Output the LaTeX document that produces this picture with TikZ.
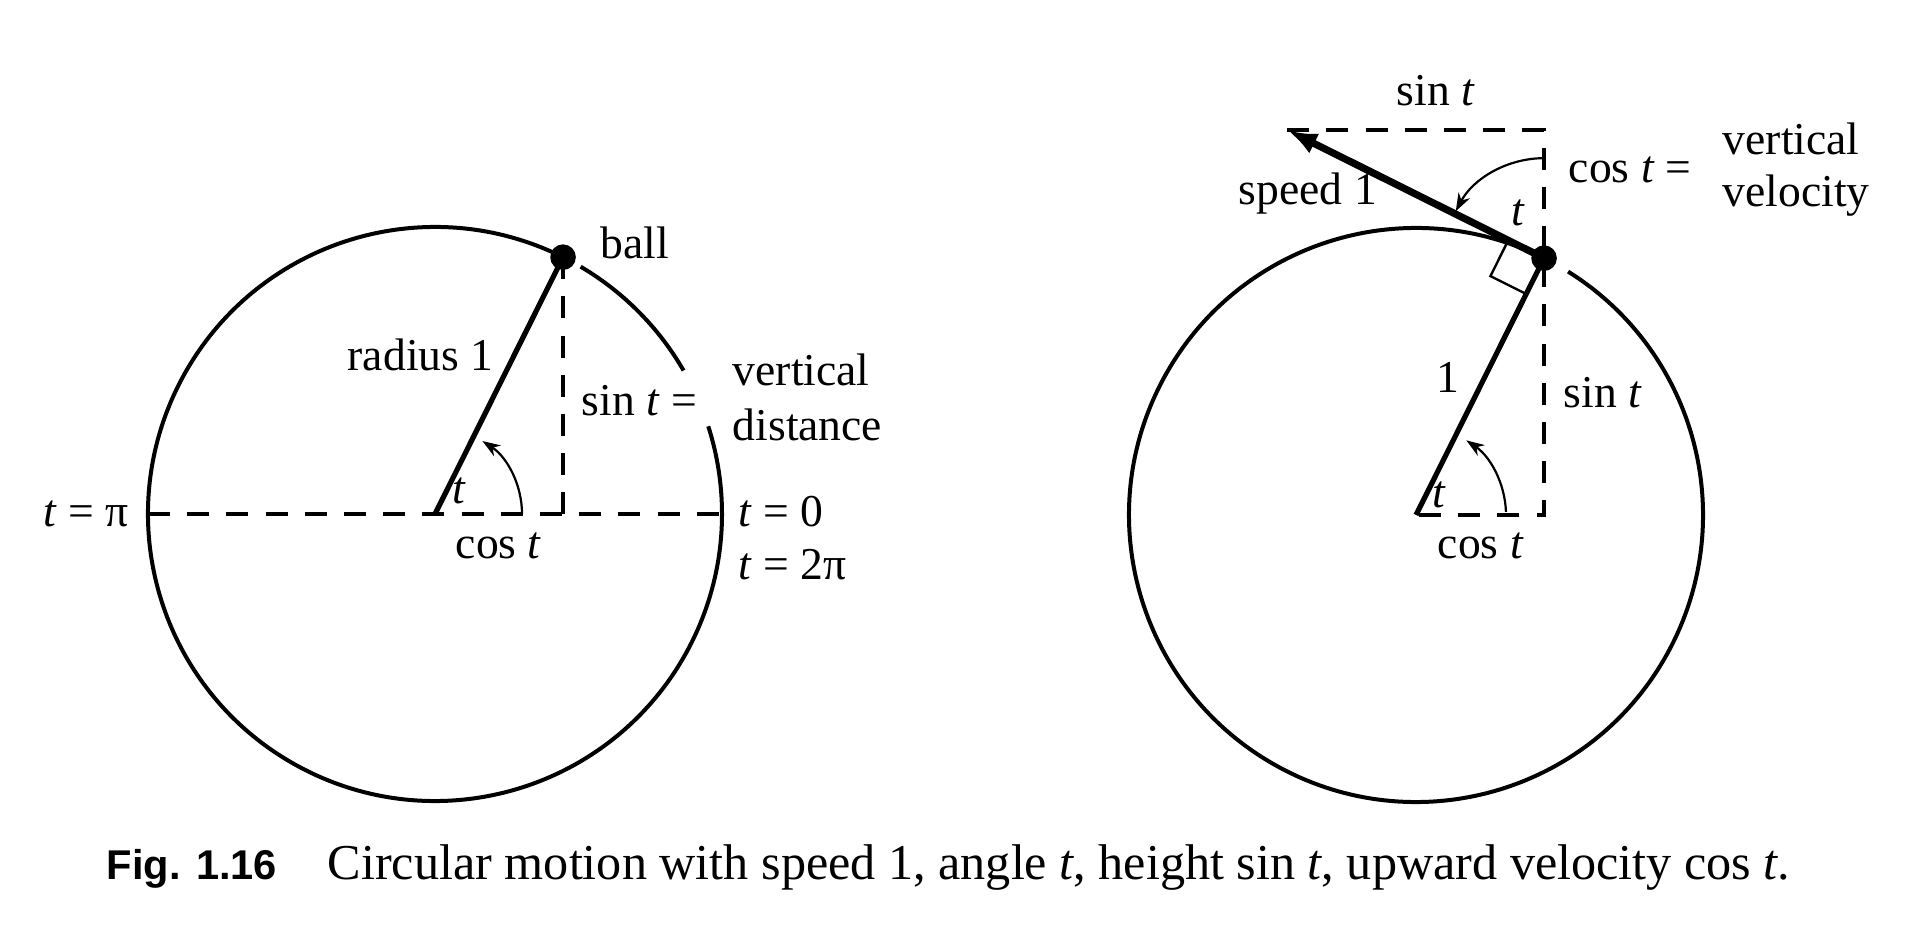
\documentclass[tikz,border=0pt]{standalone}
\usepackage{fontspec}
\setmainfont{Liberation Serif}
\newfontfamily\figfont{Liberation Sans}
\usetikzlibrary{arrows.meta,calc}
\begin{document}
\begin{tikzpicture}[x=0.25pt,y=0.25pt,
  curveline/.style={line width=1pt},
  radline/.style={line width=1.3pt},
  dshline/.style={line width=1pt,dash pattern=on 5.5pt off 4.3pt},
  angarc/.style={line width=0.55pt,-{Stealth[length=4.5pt,width=3.2pt]}},
  veloarrow/.style={line width=1.8pt,-{Latex[length=7.5pt,width=5.5pt]}},
  rmark/.style={line width=0.6pt},
  balldot/.style={circle,fill=black,inner sep=0pt,minimum size=6.4pt},
  lbl/.style={inner sep=0pt,font=\fontsize{11.4}{13}\selectfont},
  captxt/.style={inner sep=0pt,font=\fontsize{12.55}{14}\selectfont},
  figlbl/.style={inner sep=0pt,font=\figfont\bfseries\fontsize{10.4}{12}\selectfont}
]
\useasboundingbox[fill=white] (0,0) rectangle (1914,942);

% ---------------- left figure ----------------
\coordinate (O1) at (435,428);
\coordinate (B1) at ($(O1)+(63.5:71.75pt)$);
\coordinate (F1) at (B1 |- O1);
\coordinate (L1) at ($(O1)+(180:71.75pt)$);
\coordinate (R1) at ($(O1)+(0:71.75pt)$);
% circle with gaps
\draw[curveline] (R1) arc[start angle=0,end angle=17.8,radius=71.75pt];
\draw[curveline] ($(O1)+(30:71.75pt)$) arc[start angle=30,end angle=59.5,radius=71.75pt];
\draw[curveline] (B1) arc[start angle=63.5,end angle=360,radius=71.75pt];
% dashed lines
\draw[dshline] (L1) -- (R1);
\draw[dshline] (B1) -- (F1);
% radius
\node[balldot] (ball1) at (B1) {};
\draw[radline] (O1) -- (ball1.center);
% angle arc
\draw[angarc] ($(O1)+(0:21.75pt)$) arc[start angle=0,end angle=57,radius=21.75pt];
% labels
\node[lbl,anchor=base west] (lball) at (600,683) {ball};
\node[lbl,anchor=base west] (lrad) at (347,571) {radius 1};
\node[lbl,anchor=base west] (lsin1) at (581,526) {sin \textit{t} =};
\node[lbl,anchor=base west] (lvert1) at (732,556) {vertical};
\node[lbl,anchor=base west] (ldist1) at (732,501) {distance};
\node[lbl,anchor=base east] (lpi) at (129,415) {\textit{t} = π};
\node[lbl,anchor=base west] (lzero) at (738,415) {\textit{t} = 0};
\node[lbl,anchor=base west] (ltwopi) at (738,362) {\textit{t} = 2π};
\node[lbl,anchor=base west] (lcos1) at (455,383) {cos \textit{t}};
\node[lbl,anchor=base] (lt1) at (459,438) {\textit{t}};

% ---------------- right figure ----------------
\coordinate (O2) at (1416,427);
\coordinate (B2) at ($(O2)+(63.5:71.75pt)$);
\coordinate (F2) at (B2 |- O2);
\coordinate (T2) at ($(B2)+(153.5:71.75pt)$);
\coordinate (C2) at (B2 |- T2);
% circle with small gap near ball
\draw[curveline] (B2) arc[start angle=63.5,end angle=418,radius=71.75pt];
% dashed lines
\draw[dshline] (T2) -- (C2) -- (F2) -- (O2);
% right angle mark
\coordinate (P1) at ($(B2)+(153.5:10pt)$);
\coordinate (P2) at ($(B2)+(243.5:10pt)$);
\coordinate (P3) at ($(P1)+(243.5:10pt)$);
\draw[rmark] (P1) -- (P3) -- (P2);
% ball, radius, velocity
\node[balldot] (ball2) at (B2) {};
\draw[radline] (O2) -- (ball2.center);
\coordinate (tip2) at (T2);
\draw[veloarrow] (ball2.center) -- (tip2);
% angle arcs
\draw[angarc] ($(O2)+(2:22.5pt)$) arc[start angle=2,end angle=56,radius=22.5pt];
\draw[angarc] ($(B2)+(90:25pt)$) arc[start angle=90,end angle=152,radius=25pt];
% labels
\node[lbl,anchor=base] (lsintop) at (1436,836) {sin \textit{t}};
\node[lbl,anchor=base west] (lspeed) at (1238,737) {speed 1};
\node[lbl,anchor=base west] (lcos2) at (1568,759) {cos \textit{t} =};
\node[lbl,anchor=base west] (lvert2) at (1722,787) {vertical};
\node[lbl,anchor=base west] (lvel2) at (1722,735) {velocity};
\node[lbl,anchor=base] (lt2a) at (1518,716) {\textit{t}};
\node[lbl,anchor=base] (lone) at (1448,549) {1};
\node[lbl,anchor=base west] (lsin2) at (1563,534) {sin \textit{t}};
\node[lbl,anchor=base] (lt2b) at (1439,434) {\textit{t}};
\node[lbl,anchor=base west] (lcos2b) at (1437,383) {cos \textit{t}};

% ---------------- caption ----------------
\node[figlbl,anchor=base west] (figno) at (106,63) {Fig. 1.16};
\node[captxt,anchor=base west] (captext) at (327,63) {Circular motion with speed 1, angle \textit{t}, height sin \textit{t}, upward velocity cos \textit{t}.};
\end{tikzpicture}
\end{document}
